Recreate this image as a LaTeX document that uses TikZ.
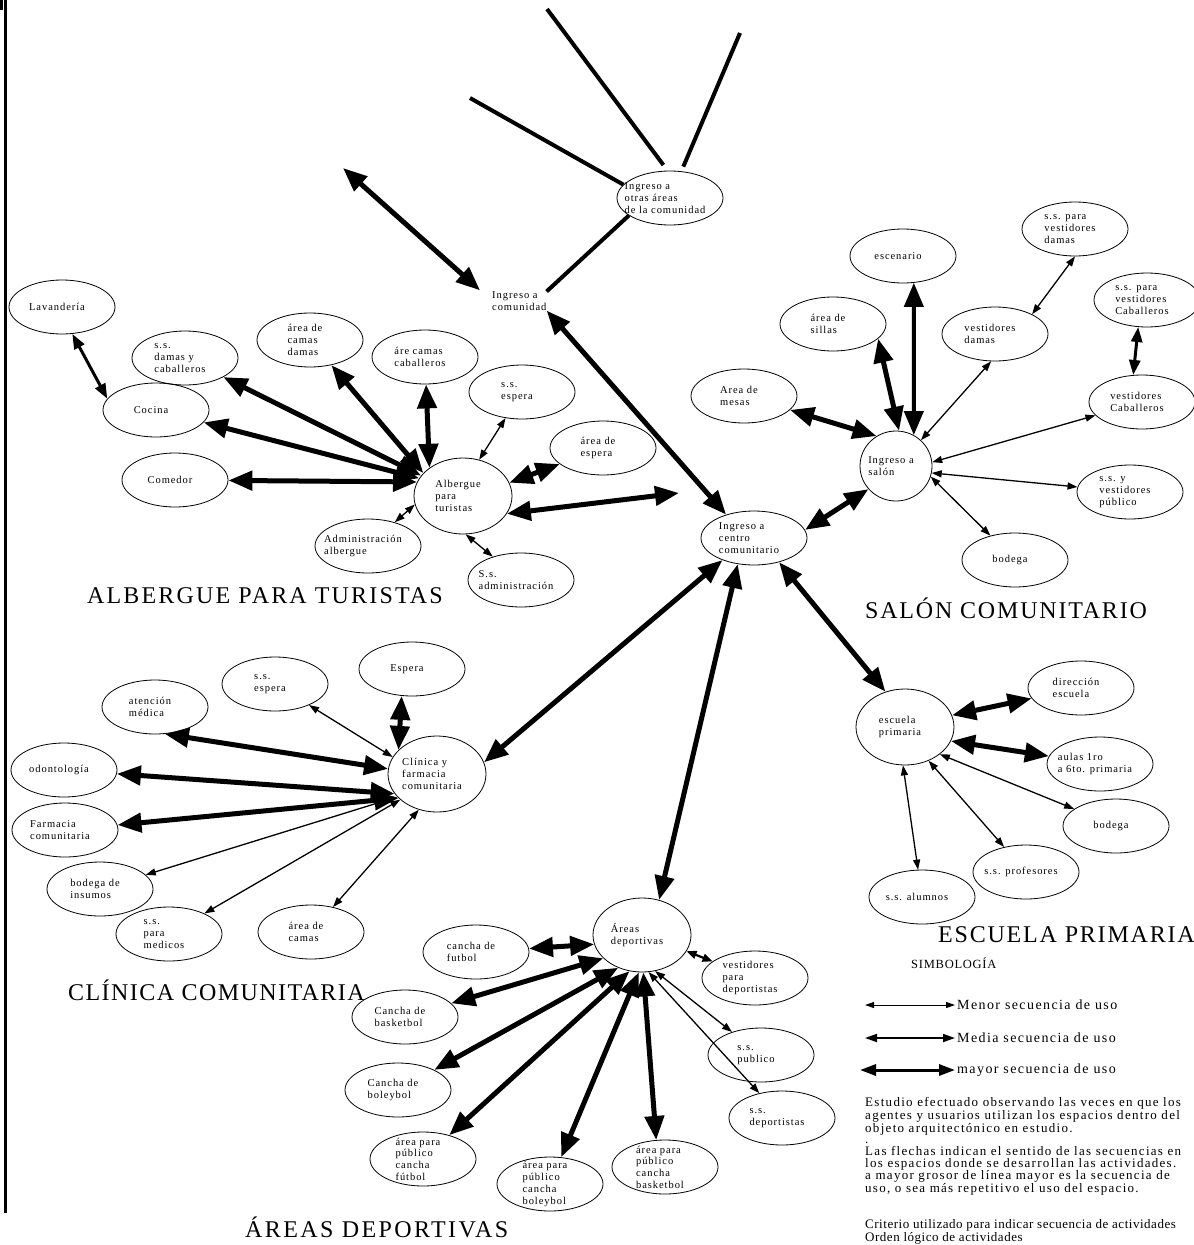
\documentclass[tikz,border=0pt]{standalone}
\usepackage{fontspec}
\setmainfont{Liberation Serif}
\newfontfamily\nodefont[LetterSpace=9]{Liberation Serif}
\newfontfamily\titlefont{Liberation Serif}
\newfontfamily\parafont[LetterSpace=10]{Liberation Serif}
\usetikzlibrary{shapes.geometric,arrows.meta}
\tikzset{
  el/.style={draw, ellipse, line width=0.8pt, minimum width=106pt, minimum height=54pt, inner sep=0pt},
  hub/.style={minimum width=98pt, minimum height=76pt},
  lb/.style={align=left, inner sep=0pt, xshift=-5pt, font=\nodefont\fontsize{10.5}{11.7}\selectfont},
  tn/.style={line width=1.3pt, arrows={Triangle[length=10pt,width=7pt]-Triangle[length=10pt,width=7pt]}},
  sm/.style={line width=2.2pt, arrows={Triangle[length=10pt,width=8pt]-Triangle[length=10pt,width=8pt]}},
  md/.style={line width=3pt, arrows={Triangle[length=15pt,width=11pt]-Triangle[length=15pt,width=11pt]}},
  tk/.style={line width=5pt, arrows={Triangle[length=24pt,width=19pt]-Triangle[length=24pt,width=19pt]}},
  ln/.style={line width=4pt},
  ttl/.style={anchor=base west, inner sep=0pt},
  lg1/.style={line width=1pt, arrows={Triangle[length=9pt,width=6pt]-Triangle[length=9pt,width=6pt]}},
  lg2/.style={line width=1.8pt, arrows={Triangle[length=12pt,width=8pt]-Triangle[length=12pt,width=8pt]}},
  lg3/.style={line width=3pt, arrows={Triangle[length=16pt,width=11pt]-Triangle[length=16pt,width=11pt]}},
  lgt/.style={anchor=west, inner sep=0pt, font=\parafont\fontsize{14}{14}\selectfont},
  para/.style={anchor=north west, align=left, inner sep=0pt, font=\parafont\fontsize{13}{11.7}\selectfont},
}
\newcommand\EN[5][]{\node[el,#1,label={[lb]center:{#5}}] (#2) at (#3,#4) {};}
\newcommand\TT[1]{\titlefont\addfontfeature{LetterSpace=#1}\fontsize{24}{24}\selectfont}
\begin{document}
\begin{tikzpicture}[x=1pt,y=-1pt]
\useasboundingbox (0,0) rectangle (1194,1245);
\fill[white] (0,0) rectangle (1194,1245);
% left frame
\draw[line width=2.5pt] (5.5,0) -- (5.5,1213);
\fill (0,0) rectangle (2.5,10);

% ---------- top ----------
\EN{otr}{670}{198}{Ingreso a\\otras áreas\\de la comunidad}
\node[lb, anchor=west, xshift=0pt] (icom) at (497,301) {Ingreso a\\comunidad};
\EN{cen}{754}{538}{Ingreso a\\centro\\comunitario}
\coordinate (t1) at (547,9);
\coordinate (t2) at (740,33);
\coordinate (t3) at (470,98);
\coordinate (fa) at (343,168);
\coordinate (ac) at (679,493);
\draw[ln, shorten <=7pt] (otr.95) -- (t1);
\draw[ln, shorten <=5pt] (otr.67) -- (t2);
\draw[ln] (otr.164) -- (t3);
\draw[ln] (otr.203) -- (icom.north east);
\draw[tk, shorten >=16pt] (fa) -- (icom.west);
\draw[tk] (icom.south east) -- (cen.140);

% ---------- albergue ----------
\EN{lav}{62}{307}{Lavandería}
\EN{ssdc}{185}{358}{s.s.\\damas y\\caballeros}
\EN{acd}{310}{340}{área de\\camas\\damas}
\EN{acc}{425}{357}{áre camas\\caballeros}
\EN{sse}{522}{392}{s.s.\\espera}
\EN{aes}{603}{448}{área de\\espera}
\EN{coc}{156}{410}{Cocina}
\EN{com}{175}{480}{Comedor}
\EN[hub]{alb}{463}{496}{Albergue\\para\\turistas}
\EN{adm}{368}{546}{Administración\\albergue}
\EN{ssa}{521}{580}{S.s.\\administración}
\node[ttl, font=\TT{9}] (tA) at (87,603) {ALBERGUE PARA TURISTAS};
\draw[md] (lav.291) -- (coc.167);
\draw[tk] (ssdc) -- (alb.154);
\draw[tk] (acd) -- (alb.150);
\draw[tk] (acc) -- (alb.140);
\draw[tn] (sse) -- (alb.66);
\draw[tk] (aes) -- (alb.16);
\draw[tk] (coc) -- (alb.158);
\draw[tk] (com) -- (alb.163);
\draw[tn] (adm) -- (alb.190);
\draw[tn] (alb.274) -- (ssa);
\draw[tk] (alb.338) -- (ac);

% ---------- salon ----------
\EN{esc}{903}{256}{escenario}
\EN{ssvd}{1075}{229}{s.s. para\\vestidores\\damas}
\EN{asi}{833}{324}{área de\\sillas}
\EN{vd}{995}{334}{vestidores\\damas}
\EN{ssvc}{1147}{300}{s.s. para\\vestidores\\Caballeros}
\EN{ame}{744}{396}{Area de\\mesas}
\EN{vc}{1142}{402}{vestidores\\Caballeros}
\EN[minimum width=72pt, minimum height=70pt]{sal}{896}{466}{Ingreso a\\salón}
\EN{ssvp}{1130}{492}{s.s. y\\vestidores\\público}
\EN{bodA}{1015}{560}{bodega}
\node[ttl, font=\TT{7.5}] (tS) at (865,618) {SALÓN COMUNITARIO};
\draw[tk] (ame) -- (sal.123);
\draw[tk] (asi.342) -- (sal.85);
\draw[tk, line width=4pt] (esc.292) -- (sal.60);
\draw[tn] (vd.262) -- (sal.46);
\draw[tn] (ssvd.270) -- (vd.28);
\draw[md] (ssvc.252) -- (vc.108);
\draw[tn] (vc) -- (sal.6);
\draw[tn] (ssvp) -- (sal.349);
\draw[tn] (sal.343) -- (bodA);
\draw[tk] (sal.220) -- (cen.9);

% ---------- escuela ----------
\EN[hub]{ep}{905}{727}{escuela\\primaria}
\EN{dir}{1081}{688}{dirección\\escuela}
\EN{aul}{1100}{764}{aulas 1ro\\a 6to. primaria}
\EN{bodB}{1116}{826}{bodega}
\EN{ssp}{1026}{872}{s.s. profesores}
\EN{ssal}{922}{897}{s.s. alumnos}
\node[ttl, font=\TT{7.5}] (tE) at (938,942) {ESCUELA PRIMARIA};
\draw[tk] (cen.316) -- (ep.119);
\draw[tk] (dir) -- (ep.14);
\draw[tk] (ep.343) -- (aul);
\draw[tn] (ep.322) -- (bodB);
\draw[tn] (ep.305) -- (ssp);
\draw[tn] (ep.267) -- (ssal);

% ---------- clinica ----------
\EN{esp}{412}{669}{Espera}
\EN{sseB}{275}{684}{s.s.\\espera}
\EN{atm}{155}{707}{atención\\médica}
\EN{odo}{64}{770}{odontología}
\EN[hub]{cli}{437}{774}{Clínica y\\farmacia\\comunitaria}
\EN{far}{65}{830}{Farmacia\\comunitaria}
\EN{bdi}{100}{889}{bodega de\\insumos}
\EN{ssm}{169}{934}{s.s.\\para\\medicos}
\EN{aca}{311}{932}{área de\\camas}
\node[ttl, font=\TT{6}] (tC) at (68,1000) {CLÍNICA COMUNITARIA};
\draw[tk] (cen.215) -- (cli.14);
\draw[tk] (esp.249) -- (cli.148);
\draw[tn] (sseB) -- (cli.159);
\draw[tk] (atm.290) -- (cli.174);
\draw[tk] (odo) -- (cli.205);
\draw[tk] (far) -- (cli.212);
\draw[tn] (bdi) -- (cli.210);
\draw[tn] (ssm) -- (cli.215);
\draw[tn] (aca) -- (cli.243);

% ---------- deportivas ----------
\EN[hub, minimum height=74pt]{dep}{642}{935}{Áreas\\deportivas}
\EN{cfu}{476}{952}{cancha de\\futbol}
\EN{vdp}{755}{978}{vestidores\\para\\deportistas}
\EN{cba}{405}{1017}{Cancha de\\basketbol}
\EN{ssu}{761}{1055}{s.s.\\publico}
\EN{cbo}{398}{1090}{Cancha de\\boleybol}
\EN{ssd}{782}{1118}{s.s.\\deportistas}
\EN{apf}{423}{1159}{área para\\público\\cancha\\fútbol}
\EN{apb}{550}{1184}{área para\\público\\cancha\\boleybol}
\EN{apk}{665}{1167}{área para\\público\\cancha\\basketbol}
\node[ttl, font=\TT{10}] (tD) at (245,1237) {ÁREAS DEPORTIVAS};
\draw[tk] (cen.238) -- (dep.64);
\draw[tk] (cfu) -- (dep.191);
\draw[tk] (cba) -- (dep.211);
\draw[tk] (cbo) -- (dep.234);
\draw[tk] (apf) -- (dep.251);
\draw[tk] (apb) -- (dep.265);
\draw[tk] (apk.108) -- (dep.272);
\draw[sm] (dep.340) -- (vdp);
\draw[tn] (dep.290) -- (ssu);
\draw[tn] (dep.280) -- (ssd);

% ---------- legend ----------
\node[anchor=base west, inner sep=0pt, font=\titlefont\addfontfeature{LetterSpace=6}\fontsize{12.5}{12.5}\selectfont] (simb) at (911,968) {SIMBOLOGÍA};
\coordinate (m1a) at (865,1005); \coordinate (m1b) at (955,1005);
\coordinate (m2a) at (865,1038); \coordinate (m2b) at (955,1038);
\coordinate (m3a) at (860,1070); \coordinate (m3b) at (955,1070);
\draw[lg1] (m1a) -- (m1b);
\draw[lg2] (m2a) -- (m2b);
\draw[lg3] (m3a) -- (m3b);
\node[lgt] (lt1) at (957,1005) {Menor secuencia de uso};
\node[lgt] (lt2) at (957,1038) {Media secuencia de uso};
\node[lgt] (lt3) at (957,1070) {mayor secuencia de uso};
\node[para] (p1) at (865,1097) {Estudio efectuado observando las veces en que los\\agentes y usuarios utilizan los espacios dentro del\\objeto arquitectónico en estudio.\\.\\Las flechas indican el sentido de las secuencias en\\los espacios donde se desarrollan las actividades.\\a mayor grosor de línea mayor es la secuencia de\\uso, o sea más repetitivo el uso del espacio.};
\node[para, font=\parafont\addfontfeature{LetterSpace=4}\fontsize{13}{11.5}\selectfont] (p2) at (865,1219) {Criterio utilizado para indicar secuencia de actividades\\Orden lógico de actividades};
\end{tikzpicture}
\end{document}
